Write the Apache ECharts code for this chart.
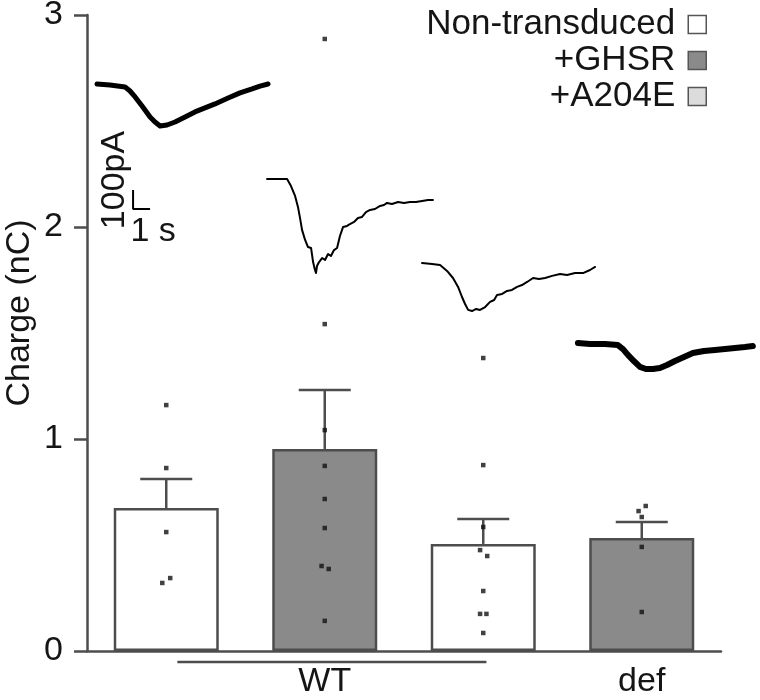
<!DOCTYPE html>
<html><head><meta charset="utf-8">
<script src="https://cdn.jsdelivr.net/npm/echarts@6/dist/echarts.min.js"></script>
<style>html,body{margin:0;padding:0;background:#fff}#c{width:760px;height:700px}</style>
</head><body><div id="c"></div>
<script>
// ---- data ----
const categories = ['WT a', 'WT b', 'WT c', 'def'];
const tickLabels = ['', 'WT', '', 'def'];
const seriesNames = ['Non-transduced', '+GHSR', '+A204E'];
const nonTransduced = [0.674, '-', 0.505, '-'];
const ghsr = ['-', 0.953, '-', 0.533];
const a204e = ['-', '-', '-', '-'];
const means = [0.674, 0.953, 0.505, 0.533];
const sems = [0.137, 0.278, 0.118, 0.075];
const points0 = [1.160, 0.863, 0.561, 0.344, 0.321];
const points1 = [2.887, 1.542, 1.042, 0.873, 0.717, 0.580, 0.401, 0.387, 0.142];
const points2 = [1.382, 0.877, 0.585, 0.476, 0.448, 0.283, 0.175, 0.175, 0.085];
const points3 = [0.684, 0.660, 0.632, 0.491, 0.184];
const jitter0 = [0, 0, 0, 0.025, -0.025];
const jitter1 = [0, 0, 0, 0, 0, 0, -0.02, 0.025, 0];
const jitter2 = [0, 0, 0, -0.02, 0.025, 0, -0.02, 0.02, 0];
const jitter3 = [0.025, -0.02, 0, 0, 0];
const yTicks = [0, 1, 2, 3];
const wtSpan = [0.07, 2.02];
const wtLineLevel = -0.052;

// example current traces: time (s) and current (pA), relative to each trace start
const trace1T = [0,0.76,1.65,1.94,2.24,2.65,3.12,3.41,3.71,4.12,4.59,5.18,5.76,6.35,6.94,7.71,8.41,9.12,9.59,10.06];
const trace1I = [0,-5,-16,-37,-68,-116,-174,-200,-221,-216,-200,-174,-147,-126,-105,-74,-47,-26,-11,0];
const trace2T = [0,1.18,1.41,1.65,1.82,1.94,2.06,2.24,2.41,2.59,2.71,2.82,2.88,2.94,3.06,3.24,3.41,3.59,3.76,3.94,4.12,4.29,4.47,4.71,4.88,5.12,5.35,5.59,5.82,6.06,6.35,6.65,6.88,7.06,7.35,7.71,8.06,8.41,8.76,9.12,9.47,9.76];
const trace2I = [0,0,-37,-89,-147,-205,-268,-321,-358,-363,-437,-479,-495,-458,-437,-416,-426,-395,-405,-374,-363,-300,-253,-247,-237,-226,-205,-200,-174,-163,-158,-142,-137,-126,-132,-121,-126,-121,-121,-116,-111,-111];
const trace3T = [0,0.59,1.06,1.47,1.82,2.12,2.35,2.53,2.71,2.94,3.18,3.41,3.71,4.0,4.24,4.41,4.71,5.0,5.29,5.59,5.88,6.18,6.53,6.88,7.24,7.65,8.12,8.53,9.0,9.47,9.88,10.18];
const trace3I = [0,-5,-11,-42,-79,-126,-179,-216,-247,-253,-242,-247,-232,-205,-195,-168,-163,-147,-142,-126,-116,-100,-79,-84,-79,-68,-58,-63,-53,-53,-37,-21];
const trace4T = [0,0.71,1.59,2.35,2.65,2.94,3.29,3.65,4.0,4.41,4.82,5.24,5.71,6.24,6.76,7.41,8.06,8.65,9.24,9.82,10.29];
const trace4I = [0,-5,-5,-11,-32,-63,-95,-126,-137,-137,-132,-116,-95,-74,-53,-42,-37,-32,-26,-21,-16];
const traceOrigins = [[0.59, -363], [10.59, -863], [19.71, -1305], [28.88, -1726]];
const scaleBarOrigin = [2.71, -921];
const scaleBarSize = [1, 100];
const scaleLabels = ['100pA', '1 s'];

// ---- chart ----
const FONT = 'Liberation Sans, Arial, Helvetica, sans-serif';
const TXT = '#151515';
const AX = '#4d4d4d';
const chart = echarts.init(document.getElementById('c'), null, {renderer: 'canvas'});

function traceData(T, I, o) { return T.map((t, k) => [o[0] + t, o[1] + I[k]]); }
function dots(vals, jit, idx) { return vals.map((v, k) => [idx + jit[k], v]); }

const traces = [[trace1T, trace1I, 5], [trace2T, trace2I, 2], [trace3T, trace3I, 2], [trace4T, trace4I, 6]];

const barStyle = (color) => ({color: color, borderColor: AX, borderWidth: 2.5});

const option = {
  animation: false,
  backgroundColor: '#fff',
  textStyle: {fontFamily: FONT},
  grid: [
    {left: 87, right: 39, top: 15, bottom: 49, containLabel: false, outerBoundsMode: 'none'},
    {left: 87, right: 0, top: 15, bottom: 49, containLabel: false, outerBoundsMode: 'none'}
  ],
  legend: {
    data: seriesNames, orient: 'vertical', right: 48, top: 2, align: 'right', icon: 'rect',
    itemWidth: 18, itemHeight: 18, itemGap: 1, selectedMode: false,
    itemStyle: {borderWidth: 1.5, borderColor: '#555'},
    textStyle: {fontSize: 35, fontFamily: FONT, color: TXT, padding: [0, 8, 0, 0]}
  },
  xAxis: [
    {type: 'category', gridIndex: 0, data: categories,
      axisLine: {show: true, onZero: false, lineStyle: {color: AX, width: 2.5}},
      axisTick: {show: false},
      axisLabel: {fontSize: 34, color: TXT, margin: 14, fontFamily: FONT,
        formatter: (v, i) => tickLabels[i]}},
    {type: 'value', gridIndex: 0, min: -0.5, max: 3.5, show: false},
    {type: 'value', gridIndex: 1, min: 0, max: 39.59, show: false}
  ],
  yAxis: [
    {type: 'value', gridIndex: 0, min: 0, max: 3, interval: 1,
      name: 'Charge (nC)', nameLocation: 'middle', nameGap: 50, nameMoveOverlap: false,
      nameTextStyle: {fontSize: 34, color: TXT, fontFamily: FONT, padding: [0, 0, 0, 40]},
      axisLine: {show: true, onZero: false, lineStyle: {color: AX, width: 2.5}},
      axisTick: {show: true, inside: false, length: 13, lineStyle: {color: AX, width: 2.5}},
      axisLabel: {fontSize: 34, color: TXT, margin: 24, fontFamily: FONT,
        formatter: (v) => yTicks.includes(v) ? String(v) : ''},
      splitLine: {show: false}},
    {type: 'value', gridIndex: 1, min: -3347, max: 0, show: false}
  ],
  series: [
    {name: seriesNames[0], type: 'bar', stack: 'g', barWidth: 105, data: nonTransduced, itemStyle: barStyle('#ffffff'), z: 2},
    {name: seriesNames[1], type: 'bar', stack: 'g', barWidth: 105, data: ghsr, itemStyle: barStyle('#8a8a8a'), z: 2},
    {name: seriesNames[2], type: 'bar', stack: 'g', barWidth: 105, data: a204e, itemStyle: barStyle('#dcdcdc'), z: 2},
    {type: 'custom', xAxisIndex: 0, yAxisIndex: 0, z: 3,
      data: means.map((m, i) => [i, m, sems[i]]),
      renderItem: function (params, api) {
        const x = api.value(0), m = api.value(1), e = api.value(2);
        const p0 = api.coord([x, m]);
        const p1 = api.coord([x, m + e]);
        const st = {stroke: AX, lineWidth: 2.5};
        return {type: 'group', children: [
          {type: 'line', shape: {x1: p0[0], y1: p0[1], x2: p1[0], y2: p1[1]}, style: st},
          {type: 'line', shape: {x1: p1[0] - 26, y1: p1[1], x2: p1[0] + 26, y2: p1[1]}, style: st}
        ]};
      }},
    {type: 'scatter', xAxisIndex: 1, yAxisIndex: 0, symbol: 'rect', symbolSize: 4.5, z: 5,
      itemStyle: {color: '#111'},
      data: [].concat(dots(points0, jitter0, 0), dots(points1, jitter1, 1), dots(points2, jitter2, 2), dots(points3, jitter3, 3))},
    {type: 'line', xAxisIndex: 1, yAxisIndex: 0, clip: false, symbol: 'none', z: 4,
      lineStyle: {color: AX, width: 2.5},
      data: [[wtSpan[0], wtLineLevel], [wtSpan[1], wtLineLevel]]},
    ...traces.map((tr, k) => ({type: 'line', xAxisIndex: 2, yAxisIndex: 1, clip: false, symbol: 'none', z: 6,
      lineStyle: {color: '#000', width: tr[2], join: 'round', cap: 'round'},
      data: traceData(tr[0], tr[1], traceOrigins[k])})),
    {type: 'line', xAxisIndex: 2, yAxisIndex: 1, clip: false, symbol: 'none', z: 6,
      lineStyle: {color: '#000', width: 2},
      data: [[scaleBarOrigin[0], scaleBarOrigin[1]],
             [scaleBarOrigin[0], scaleBarOrigin[1] - scaleBarSize[1]],
             [scaleBarOrigin[0] + scaleBarSize[0], scaleBarOrigin[1] - scaleBarSize[1]]]}
  ]
};
chart.setOption(option);

const pTop = chart.convertToPixel({gridIndex: 1}, scaleBarOrigin);
chart.setOption({graphic: [
  {type: 'text', x: pTop[0] - 18, y: pTop[1] - 10, rotation: Math.PI / 2,
    style: {text: scaleLabels[0], fontSize: 34, fontFamily: FONT, fill: TXT, align: 'center', verticalAlign: 'middle'}},
  {type: 'text', x: pTop[0] + 20, y: pTop[1] + 42,
    style: {text: scaleLabels[1], fontSize: 34, fontFamily: FONT, fill: TXT, align: 'center', verticalAlign: 'middle'}}
]});
</script></body></html>
